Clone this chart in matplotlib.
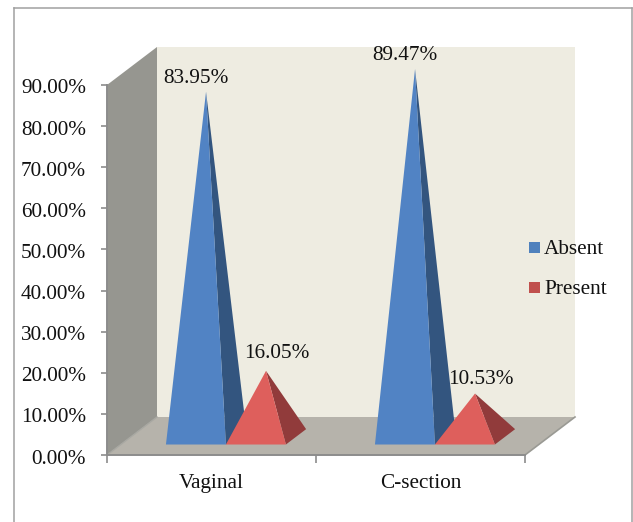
import matplotlib
matplotlib.use('Agg')
import matplotlib.pyplot as plt
from matplotlib.patches import Polygon, Rectangle
from matplotlib.transforms import ScaledTranslation

categories = ['Vaginal', 'C-section']
series_names = ['Absent', 'Present']
absent = [83.95, 89.47]
present = [16.05, 10.53]
value_labels = {'Absent': ['83.95%', '89.47%'], 'Present': ['16.05%', '10.53%']}
y_ticks = [0, 10, 20, 30, 40, 50, 60, 70, 80, 90]

W, H = 633, 522
FS = 15.3
plt.rcParams['font.family'] = ['Liberation Serif', 'DejaVu Serif']
fig = plt.figure(figsize=(W / 100, H / 100), dpi=100, facecolor='white')

# front plane of the 3D box
L, R, T, B = 107, 525, 85, 455
ax = fig.add_axes([L / W, 1 - B / H, (R - L) / W, (B - T) / H])
ax.set_xlim(0, 2)
ax.set_ylim(0, 90)
ax.patch.set_alpha(0)
for s in ['top', 'right']:
    ax.spines[s].set_visible(False)
for s in ['left', 'bottom']:
    ax.spines[s].set_color('#8c8c8c')
    ax.spines[s].set_linewidth(1.4)
ax.set_yticks(y_ticks)
ax.set_yticklabels([f'{v:.2f}%' for v in y_ticks], fontsize=FS, color='#111111')
ax.set_xticks([0, 1, 2])
ax.set_xticklabels([])
ax.tick_params(axis='x', color='#8c8c8c', length=5.5, width=1.2)
ax.tick_params(axis='y', color='#8c8c8c', length=4.5, width=1.2, pad=10.5)
shift = ScaledTranslation(0, -1.5 / 72 * 0.72 * 100 / 100, fig.dpi_scale_trans)
for lab in ax.get_yticklabels():
    lab.set_transform(lab.get_transform() + ScaledTranslation(0, -0.015, fig.dpi_scale_trans))
for i, c in enumerate(categories):
    ax.text(i + 0.5, -4.7, c, ha='center', va='top', fontsize=FS, color='#111111')

# depth vector, in axes data units
DX = 50 / ((R - L) / 2)
DY = 38 / ((B - T) / 90)


def pt(x, y, d=0.0):
    return (x + DX * d, y + DY * d)


def poly(points, color, z):
    ax.add_patch(Polygon(points, closed=True, facecolor=color, edgecolor='none',
                         clip_on=False, zorder=z))


poly([pt(0, 0, 1), pt(2, 0, 1), pt(2, 90, 1), pt(0, 90, 1)], '#eeece1', 1)
poly([pt(0, 0), pt(0, 90), pt(0, 90, 1), pt(0, 0, 1)], '#969690', 1.2)
poly([pt(0, 0), pt(2, 0), pt(2, 0, 1), pt(0, 0, 1)], '#b6b3ab', 1.1)
ax.plot(*zip(pt(2, 0), pt(2, 0, 1)), color='#9a9a94', lw=1.2, clip_on=False, zorder=1.3)
ax.plot(*zip(pt(0, 0), pt(0, 0, 1)), color='#a8a8a2', lw=1.0, clip_on=False, zorder=1.3)

BW = 0.287
D0, D1 = 0.276, 0.68
front_cols = {'Absent': '#5183c4', 'Present': '#de5f5c'}
side_cols = {'Absent': '#33557f', 'Present': '#913b3b'}
legend_cols = {'Absent': '#4f81bd', 'Present': '#c0504d'}


def pyramid(x0, value, name, z):
    x1 = x0 + BW
    apex = pt((x0 + x1) / 2, value, (D0 + D1) / 2)
    poly([pt(x1, 0, D0), pt(x1, 0, D1), apex], side_cols[name], z)
    poly([pt(x0, 0, D0), pt(x1, 0, D0), apex], front_cols[name], z + 0.1)
    return apex


absent_dx = [-0.05, -0.05]
present_dx = [0.05, 0.03]
absent_dy = [0.8, 1.0]
present_dy = [1.9, 1.0]
for i in range(len(categories)):
    centre = i + 0.503
    a = pyramid(centre - BW, absent[i], 'Absent', 3)
    p = pyramid(centre, present[i], 'Present', 4)
    ax.text(a[0] + absent_dx[i], a[1] + absent_dy[i], value_labels['Absent'][i], ha='center',
            va='bottom', fontsize=FS, color='#111111', zorder=6, clip_on=False)
    ax.text(p[0] + present_dx[i], p[1] + present_dy[i], value_labels['Present'][i], ha='center',
            va='bottom', fontsize=FS, color='#111111', zorder=6, clip_on=False)

# legend
for name, yc in zip(series_names, [247.5, 287.5]):
    fig.patches.append(Rectangle((529 / W, 1 - (yc + 5.5) / H), 11 / W, 11 / H,
                                 transform=fig.transFigure, facecolor=legend_cols[name],
                                 edgecolor='none'))
    fig.text(544 / W, 1 - (yc + 2) / H, name, ha='left', va='center', fontsize=FS, color='#111111')

# outer frame: open at the bottom, where the picture is cut off
fx0, fx1, fy0, fy1 = 14 / W, 632 / W, 1.0, 1 - 8 / H
for xs, ys in [([fx0, fx0], [0, fy1]), ([fx0, fx1], [fy1, fy1]), ([fx1, fx1], [fy1, 0])]:
    fig.add_artist(plt.Line2D(xs, ys, color='#a0a0a0', lw=1.1, transform=fig.transFigure))

fig.savefig('out.png', dpi=100)
